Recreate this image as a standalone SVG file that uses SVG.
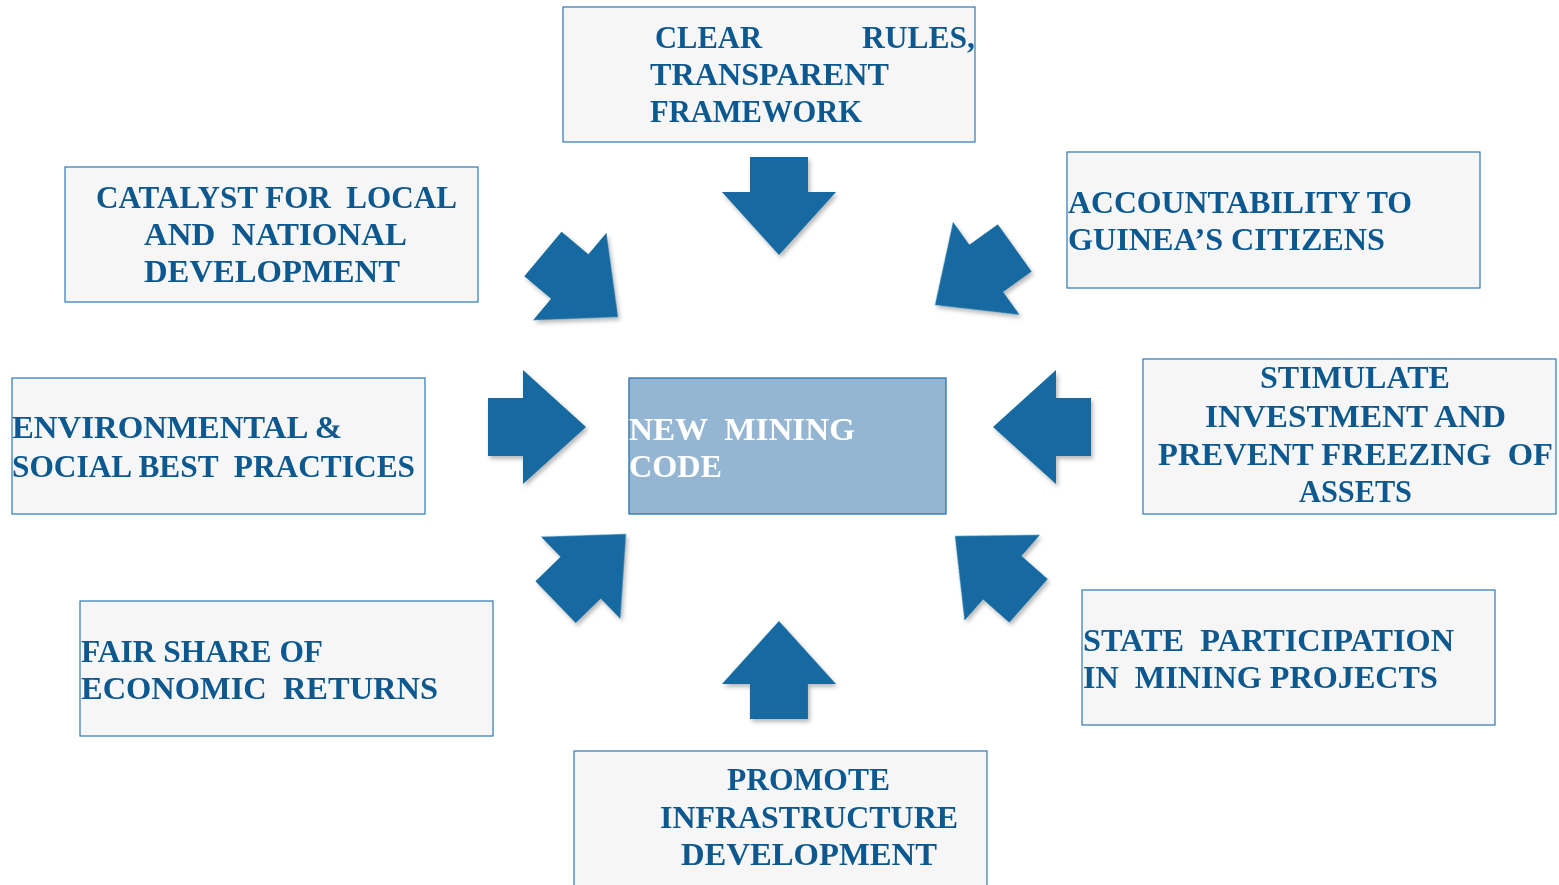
<svg xmlns="http://www.w3.org/2000/svg" width="1559" height="885" viewBox="0 0 1559 885">
  <style>
    .box { fill: #f6f6f6; stroke: #2f78b4; stroke-width: 1.2; }
    .core { fill: #95b6d3; stroke: #2a72ad; stroke-width: 1.3; }
    .lbl { font-family: "Liberation Serif", "Times New Roman", serif; font-weight: bold; font-size: 31px; fill: #0d598f; white-space: pre; }
    .lbl-core { fill: #ffffff; }
    .arrow { fill: #146ba1; }
  </style>
  <defs>
    <filter id="soft" x="-20%" y="-20%" width="150%" height="150%">
      <feDropShadow dx="2" dy="3" stdDeviation="2" flood-color="#000000" flood-opacity="0.28"/>
    </filter>
    <!-- block arrow, tip at origin, pointing down (+y) -->
    <polygon id="blk" points="0,0 57,-63 29,-63 29,-98 -29,-98 -29,-63 -57,-63"/>
  </defs>

  <rect width="1559" height="885" fill="#ffffff"/>

  <!-- arrows pointing into the centre box -->
  <g id="connectors" class="arrow" filter="url(#soft)">
    <use href="#blk" transform="translate(779,255)"/>
    <use href="#blk" transform="translate(779,621) rotate(180)"/>
    <use href="#blk" transform="translate(586,427) rotate(-90)"/>
    <use href="#blk" transform="translate(993,427) rotate(90)"/>
    <use href="#blk" transform="translate(618,317) rotate(-50)"/>
    <use href="#blk" transform="translate(935,305) rotate(54.4)"/>
    <use href="#blk" transform="translate(626,534) rotate(-134)"/>
    <use href="#blk" transform="translate(955,536) rotate(131.4)"/>
  </g>

  <g id="node-core">
    <rect class="core" x="629" y="378" width="317" height="136"/>
    <text class="lbl lbl-core" x="629" y="440" textLength="226" lengthAdjust="spacingAndGlyphs">NEW  MINING</text>
    <text class="lbl lbl-core" x="629" y="477" textLength="93" lengthAdjust="spacingAndGlyphs">CODE</text>
  </g>

  <g id="node-rules">
    <rect class="box" x="563" y="7" width="412" height="135"/>
    <text class="lbl" x="655" y="48" textLength="107" lengthAdjust="spacingAndGlyphs">CLEAR</text>
    <text class="lbl" x="862" y="48" textLength="113" lengthAdjust="spacingAndGlyphs">RULES,</text>
    <text class="lbl" x="650" y="85" textLength="239" lengthAdjust="spacingAndGlyphs">TRANSPARENT</text>
    <text class="lbl" x="650" y="122" textLength="212" lengthAdjust="spacingAndGlyphs">FRAMEWORK</text>
  </g>

  <g id="node-catalyst">
    <rect class="box" x="65" y="167" width="413" height="135"/>
    <text class="lbl" x="96" y="208" textLength="361" lengthAdjust="spacingAndGlyphs">CATALYST FOR  LOCAL</text>
    <text class="lbl" x="144" y="245" textLength="263" lengthAdjust="spacingAndGlyphs">AND  NATIONAL</text>
    <text class="lbl" x="144" y="282" textLength="256" lengthAdjust="spacingAndGlyphs">DEVELOPMENT</text>
  </g>

  <g id="node-accountability">
    <rect class="box" x="1067" y="152" width="413" height="136"/>
    <text class="lbl" x="1068" y="213" textLength="344" lengthAdjust="spacingAndGlyphs">ACCOUNTABILITY TO</text>
    <text class="lbl" x="1068" y="250" textLength="317" lengthAdjust="spacingAndGlyphs">GUINEA’S CITIZENS</text>
  </g>

  <g id="node-environment">
    <rect class="box" x="12" y="378" width="413" height="136"/>
    <text class="lbl" x="12" y="438" textLength="330" lengthAdjust="spacingAndGlyphs">ENVIRONMENTAL &amp;</text>
    <text class="lbl" x="12" y="477" textLength="403" lengthAdjust="spacingAndGlyphs">SOCIAL BEST  PRACTICES</text>
  </g>

  <g id="node-investment">
    <rect class="box" x="1143" y="359" width="413" height="155"/>
    <text class="lbl" x="1260" y="388" textLength="190" lengthAdjust="spacingAndGlyphs">STIMULATE</text>
    <text class="lbl" x="1205" y="427" textLength="301" lengthAdjust="spacingAndGlyphs">INVESTMENT AND</text>
    <text class="lbl" x="1158" y="465" textLength="395" lengthAdjust="spacingAndGlyphs">PREVENT FREEZING  OF</text>
    <text class="lbl" x="1299" y="502" textLength="113" lengthAdjust="spacingAndGlyphs">ASSETS</text>
  </g>

  <g id="node-fairshare">
    <rect class="box" x="80" y="601" width="413" height="135"/>
    <text class="lbl" x="81" y="662" textLength="242" lengthAdjust="spacingAndGlyphs">FAIR SHARE OF</text>
    <text class="lbl" x="81" y="699" textLength="357" lengthAdjust="spacingAndGlyphs">ECONOMIC  RETURNS</text>
  </g>

  <g id="node-state">
    <rect class="box" x="1082" y="590" width="413" height="135"/>
    <text class="lbl" x="1083" y="651" textLength="371" lengthAdjust="spacingAndGlyphs">STATE  PARTICIPATION</text>
    <text class="lbl" x="1083" y="688" textLength="355" lengthAdjust="spacingAndGlyphs">IN  MINING PROJECTS</text>
  </g>

  <g id="node-infrastructure">
    <rect class="box" x="574" y="751" width="413" height="140"/>
    <text class="lbl" x="727" y="790" textLength="163" lengthAdjust="spacingAndGlyphs">PROMOTE</text>
    <text class="lbl" x="660" y="828" textLength="298" lengthAdjust="spacingAndGlyphs">INFRASTRUCTURE</text>
    <text class="lbl" x="681" y="865" textLength="256" lengthAdjust="spacingAndGlyphs">DEVELOPMENT</text>
  </g>
</svg>
